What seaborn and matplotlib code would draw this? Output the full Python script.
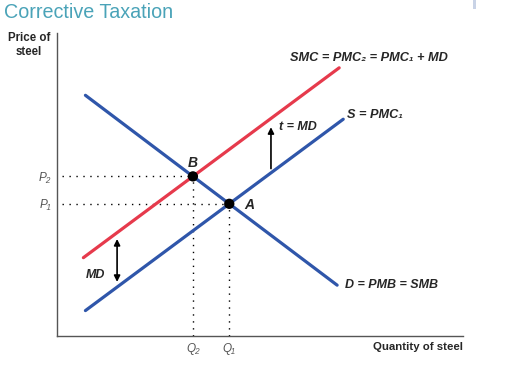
import numpy as np
import pandas as pd
import matplotlib
matplotlib.use('Agg')
import matplotlib.pyplot as plt
from matplotlib.patches import Rectangle
import seaborn as sns

# curve end points (quantity, price)
demand_q = [0.7, 6.9]
demand_p = [8.05, 1.7]
supply_q = [0.7, 7.05]
supply_p = [0.85, 7.25]
smc_q = [0.65, 6.95]
md = 1.82  # marginal damage (vertical gap)

red = '#e63a4c'
blue = '#2f56aa'

sns.set_style('white')
plt.rcParams['font.family'] = ['Liberation Sans', 'DejaVu Sans']


def line_at(q, qs, ps):
    slope = (ps[1] - ps[0]) / (qs[1] - qs[0])
    return ps[0] + slope * (q - qs[0])


def cross(qs1, ps1, qs2, ps2, shift=0.0):
    s1 = (ps1[1] - ps1[0]) / (qs1[1] - qs1[0])
    s2 = (ps2[1] - ps2[0]) / (qs2[1] - qs2[0])
    b1 = ps1[0] - s1 * qs1[0]
    b2 = ps2[0] - s2 * qs2[0] + shift
    q = (b2 - b1) / (s1 - s2)
    return q, b1 + s1 * q


smc_p = [line_at(q, supply_q, supply_p) + md for q in smc_q]
qA, pA = cross(demand_q, demand_p, supply_q, supply_p)
qB, pB = cross(demand_q, demand_p, supply_q, supply_p, shift=md)

fig = plt.figure(figsize=(5.05, 3.78), dpi=100)
ax = fig.add_axes([57 / 505, 42 / 378, 406 / 505, 303 / 378])

lines = pd.DataFrame({
    'q': demand_q + supply_q + smc_q,
    'p': demand_p + supply_p + smc_p,
    'curve': ['D'] * 2 + ['S'] * 2 + ['SMC'] * 2,
})
sns.lineplot(data=lines, x='q', y='p', hue='curve', units='curve', estimator=None,
             palette={'D': blue, 'S': blue, 'SMC': red}, linewidth=2.3,
             legend=False, ax=ax, zorder=3)

# dotted guides
for q, p in [(qA, pA), (qB, pB)]:
    ax.plot([0.12, q], [p, p], color='black', linestyle=(0, (1, 4)), linewidth=1, zorder=2)
    ax.plot([q, q], [0, p], color='black', linestyle=(0, (1, 4)), linewidth=1, zorder=2)

pts = pd.DataFrame({'q': [qA, qB], 'p': [pA, pB]})
sns.scatterplot(data=pts, x='q', y='p', color='black', s=55, edgecolor='none', ax=ax, zorder=5)
lbl = dict(fontweight='bold', fontstyle='italic', va='center')
ax.text(qA + 0.38, pA - 0.05, 'A', fontsize=10, ha='left', **lbl)
ax.text(qB, pB + 0.45, 'B', fontsize=10, ha='center', **lbl)

# MD arrows
xm = 1.48
lo = line_at(xm, supply_q, supply_p)
ax.annotate('', xy=(xm, lo + 0.08), xytext=(xm, lo + md - 0.12),
            arrowprops=dict(arrowstyle='<|-|>', color='black', lw=1.2, mutation_scale=9))
ax.text(0.72, lo + 0.42, 'MD', fontsize=9, **lbl)
xt = 5.27
lo = line_at(xt, supply_q, supply_p)
ax.annotate('', xy=(xt, lo + md - 0.2), xytext=(xt, lo + 0.05),
            arrowprops=dict(arrowstyle='-|>', color='black', lw=1.2, mutation_scale=9))
ax.text(xt + 0.2, lo + md - 0.3, 't = MD', fontsize=9, **lbl)

ax.text(5.74, 9.3, 'SMC = PMC₂ = PMC₁ + MD', fontsize=9.2, **lbl)
ax.text(7.14, 7.4, 'S = PMC₁', fontsize=9.2, **lbl)
ax.text(7.1, 1.7, 'D = PMB = SMB', fontsize=9, **lbl)

ax.set_xlim(0, 10)
ax.set_ylim(0, 303 / 29.9)
ax.set_xticks([qB, qA], ['Q₂', 'Q₁'])
ax.set_yticks([pA, pB], ['P₁', 'P₂'])
ax.tick_params(length=0, labelsize=8.5, labelcolor='#555555')
ax.tick_params(axis='y', pad=4)
ax.tick_params(axis='x', pad=5)
for lab in ax.get_xticklabels() + ax.get_yticklabels():
    lab.set_fontstyle('italic')
ax.set_xlabel('')
ax.set_ylabel('')
sns.despine(ax=ax)
for sp in ['left', 'bottom']:
    ax.spines[sp].set_color('#555555')
    ax.spines[sp].set_linewidth(1)

fig.text(463 / 505, 1 - 347 / 378, 'Quantity of steel', fontsize=8.2, fontweight='bold', ha='right', va='center')
fig.text(29 / 505, 1 - 45 / 378, 'Price of\nsteel', fontsize=8.3, fontweight='bold', ha='center', va='center', linespacing=1.15)
fig.text(4 / 505, 1 - 12 / 378, 'Corrective Taxation', fontsize=14.2, color='#4aa3b8', ha='left', va='center')
fig.add_artist(Rectangle((473 / 505, 1 - 9 / 378), 3 / 505, 9 / 378, transform=fig.transFigure,
                         color='#c9d3e6', lw=0))

fig.savefig('out.png', dpi=100)
